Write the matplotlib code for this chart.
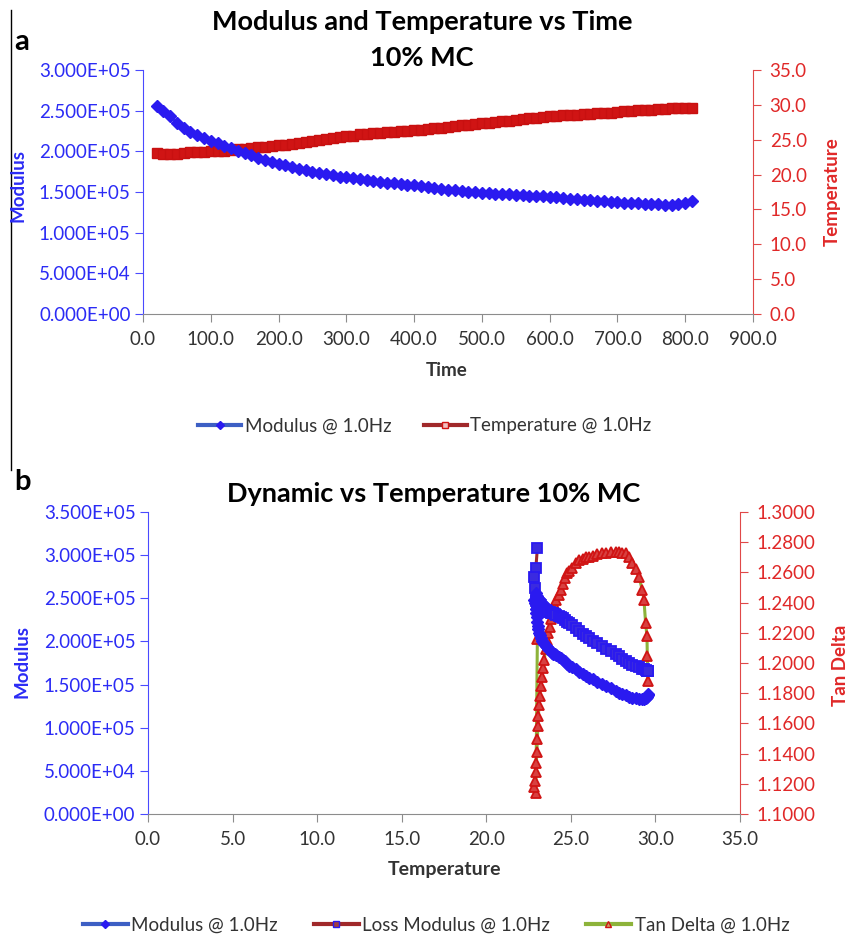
import matplotlib
matplotlib.use("Agg")
import matplotlib.pyplot as plt
from matplotlib.lines import Line2D
from matplotlib.ticker import FuncFormatter, MultipleLocator

plt.rcParams['font.family'] = ['Lato', 'DejaVu Sans']

# ---------------- Panel a data ----------------
time_s = [20, 30, 40, 50, 60, 70, 80, 90, 100, 110, 120, 130, 140, 150, 160, 170, 180, 190,
          200, 210, 220, 230, 240, 250, 260, 270, 280, 290, 300, 310, 320, 330, 340, 350,
          360, 370, 380, 390, 400, 410, 420, 430, 440, 450, 460, 470, 480, 490, 500, 510,
          520, 530, 540, 550, 560, 570, 580, 590, 600, 610, 620, 630, 640, 650, 660, 670,
          680, 690, 700, 710, 720, 730, 740, 750, 760, 770, 780, 790, 800, 810]
modulus_a = [2.56, 2.50, 2.43, 2.35, 2.29, 2.24, 2.20, 2.165, 2.13, 2.10, 2.065, 2.035, 2.005,
             1.975, 1.95, 1.92, 1.895, 1.87, 1.85, 1.83, 1.805, 1.785, 1.77, 1.75, 1.735, 1.72,
             1.705, 1.69, 1.68, 1.67, 1.655, 1.645, 1.635, 1.625, 1.615, 1.61, 1.60, 1.59, 1.58,
             1.57, 1.56, 1.55, 1.54, 1.53, 1.525, 1.515, 1.505, 1.495, 1.49, 1.485, 1.48, 1.475,
             1.47, 1.465, 1.46, 1.455, 1.45, 1.445, 1.44, 1.435, 1.43, 1.42, 1.415, 1.405, 1.40,
             1.39, 1.385, 1.38, 1.375, 1.37, 1.365, 1.36, 1.355, 1.35, 1.348, 1.346, 1.346,
             1.35, 1.36, 1.385]  # x 1e5
temperature_a = [23.1, 23.0, 22.95, 23.0, 23.1, 23.2, 23.25, 23.3, 23.35, 23.4, 23.45, 23.5,
                 23.6, 23.7, 23.8, 23.9, 24.0, 24.1, 24.2, 24.3, 24.45, 24.55, 24.7, 24.8,
                 24.95, 25.1, 25.2, 25.35, 25.5, 25.6, 25.75, 25.85, 25.95, 26.0, 26.1, 26.15,
                 26.2, 26.3, 26.35, 26.45, 26.55, 26.65, 26.75, 26.85, 26.95, 27.05, 27.15,
                 27.25, 27.35, 27.45, 27.55, 27.65, 27.75, 27.85, 27.95, 28.05, 28.15, 28.25,
                 28.35, 28.45, 28.5, 28.55, 28.6, 28.7, 28.75, 28.8, 28.85, 28.9, 29.0, 29.05,
                 29.1, 29.2, 29.25, 29.3, 29.4, 29.45, 29.5, 29.55, 29.6, 29.6]

# ---------------- Panel b data ----------------
temperature_b = [23.02, 22.93, 22.85, 22.88, 22.93, 22.96, 22.99, 23.02, 23.05, 23.08, 23.12,
                 23.16, 23.22, 23.28, 23.35, 23.42, 23.52, 23.60, 23.67, 23.74, 23.81, 23.91,
                 23.97, 24.05, 24.14, 24.27, 24.40, 24.52, 24.65, 24.79, 24.89, 25.05, 25.29,
                 25.50, 25.70, 25.88, 26.07, 26.30, 26.55, 26.86, 27.10, 27.35, 27.65, 27.85,
                 28.05, 28.24, 28.45, 28.63, 28.83, 29.03, 29.22, 29.32, 29.42, 29.50, 29.52,
                 29.54, 29.56]
storage_b = [2.53, 2.56, 2.48, 2.44, 2.38, 2.33, 2.28, 2.23, 2.18, 2.14, 2.10, 2.07, 2.04, 2.01,
             1.99, 1.97, 1.945, 1.93, 1.915, 1.90, 1.885, 1.867, 1.86, 1.85, 1.84, 1.825, 1.81,
             1.79, 1.77, 1.74, 1.713, 1.70, 1.68, 1.65, 1.62, 1.598, 1.58, 1.56, 1.535, 1.502,
             1.48, 1.455, 1.425, 1.406, 1.39, 1.375, 1.36, 1.348, 1.34, 1.333, 1.328, 1.33,
             1.34, 1.355, 1.365, 1.375, 1.386]  # x 1e5
loss_b = [3.08, 2.85, 2.75, 2.62, 2.50, 2.47, 2.46, 2.455, 2.45, 2.445, 2.44, 2.43, 2.42, 2.40,
          2.39, 2.375, 2.36, 2.35, 2.345, 2.34, 2.335, 2.33, 2.325, 2.315, 2.31, 2.30, 2.285,
          2.27, 2.25, 2.23, 2.214, 2.19, 2.16, 2.12, 2.09, 2.06, 2.035, 2.01, 1.98, 1.944,
          1.915, 1.885, 1.85, 1.829, 1.80, 1.775, 1.745, 1.725, 1.713, 1.70, 1.685, 1.675,
          1.665, 1.66, 1.658, 1.656, 1.655]  # x 1e5
tan_delta_b = [1.216, 1.114, 1.118, 1.122, 1.128, 1.134, 1.141, 1.150, 1.158, 1.165, 1.172,
               1.178, 1.185, 1.191, 1.197, 1.202, 1.209, 1.215, 1.220, 1.224, 1.229, 1.233,
               1.235, 1.238, 1.242, 1.245, 1.2485, 1.252, 1.256, 1.2595, 1.261, 1.263, 1.266,
               1.268, 1.269, 1.270, 1.2705, 1.271, 1.272, 1.2727, 1.273, 1.2735, 1.2738,
               1.2735, 1.273, 1.2727, 1.270, 1.266, 1.262, 1.257, 1.2485, 1.242, 1.2265,
               1.2177, 1.2045, 1.195, 1.188]

legend_a = ["Modulus @ 1.0Hz", "Temperature @ 1.0Hz"]
legend_b = ["Modulus @ 1.0Hz", "Loss Modulus @ 1.0Hz", "Tan Delta @ 1.0Hz"]

BLUE_TXT = '#2B2BF5'
RED_TXT = '#E02828'
BLUE_MK = '#2A1AF0'
BLUE_LN = '#3D5FC4'
RED_MK = '#D01414'
RED_LN = '#A0282A'
GREEN_LN = '#8DB33A'
GREY = '#8C8C8C'
TXT = '#333333'

W, H = 849, 941
fig = plt.figure(figsize=(W / 100, H / 100), dpi=100)

def rect(l, r, t, b):
    return [l / W, 1 - b / H, (r - l) / W, (b - t) / H]

TICK_FS = 13.5

def style(ax, axr, yfmt_l, yfmt_r):
    ax.spines['top'].set_visible(False)
    axr.spines['top'].set_visible(False)
    ax.spines['left'].set_color('#4A4AFF')
    ax.spines['bottom'].set_color(GREY)
    axr.spines['right'].set_color('#E04848')
    axr.spines['left'].set_visible(False)
    axr.spines['bottom'].set_visible(False)
    ax.spines['right'].set_visible(False)
    ax.tick_params(axis='y', colors='#4A4AFF', labelcolor=BLUE_TXT, labelsize=TICK_FS,
                   direction='out', length=6, pad=3)
    ax.tick_params(axis='x', colors=GREY, labelcolor=TXT, labelsize=TICK_FS,
                   direction='out', length=6, pad=6)
    axr.tick_params(axis='y', colors='#E04848', labelcolor=RED_TXT, labelsize=TICK_FS,
                    direction='out', length=6, pad=6)
    ax.yaxis.set_major_formatter(FuncFormatter(yfmt_l))
    axr.yaxis.set_major_formatter(FuncFormatter(yfmt_r))
    ax.xaxis.set_major_formatter(FuncFormatter(lambda v, p: f"{v:.1f}"))

# ---------------- Panel a ----------------
ax1 = fig.add_axes(rect(143, 753, 70, 314))
ax1r = ax1.twinx()
ax1.set_zorder(ax1r.get_zorder() + 1)
ax1.patch.set_visible(False)
ax1.plot(time_s, [m * 1e5 for m in modulus_a], color=BLUE_LN, lw=2.2,
         marker='D', ms=6, mfc=BLUE_MK, mec=BLUE_MK, zorder=3)
ax1r.plot(time_s, temperature_a, color=RED_LN, lw=2.2,
          marker='s', ms=7.5, mfc=RED_MK, mec='#C81010', zorder=2)
ax1.set_xlim(0, 900)
ax1.set_ylim(0, 3.0e5)
ax1r.set_ylim(0, 35)
ax1.xaxis.set_major_locator(MultipleLocator(100))
ax1.yaxis.set_major_locator(MultipleLocator(5e4))
ax1r.yaxis.set_major_locator(MultipleLocator(5))
style(ax1, ax1r, lambda v, p: f"{v:.3E}", lambda v, p: f"{v:.1f}")

TITLE_FS = 19.5
fig.text(422 / W, 1 - 22 / H, "Modulus and Temperature vs Time", ha='center', va='center',
         fontsize=TITLE_FS, fontweight='bold', color='black')
fig.text(422 / W, 1 - 58 / H, "10% MC", ha='center', va='center',
         fontsize=TITLE_FS, fontweight='bold', color='black')
fig.text(447 / W, 1 - 370 / H, "Time", ha='center', va='center', fontsize=13.5,
         fontweight='bold', color=TXT)
fig.text(18 / W, 1 - 185 / H, "Modulus", ha='center', va='center', rotation=90,
         fontsize=13.5, fontweight='bold', color=BLUE_TXT)
fig.text(832 / W, 1 - 192 / H, "Temperature", ha='center', va='center', rotation=90,
         fontsize=13.5, fontweight='bold', color=RED_TXT)
fig.text(22 / W, 1 - 42 / H, "a", ha='center', va='center', fontsize=21,
         fontweight='bold', color='black')

h1 = Line2D([], [], color=BLUE_LN, lw=3, marker='D', ms=4, mfc=BLUE_MK, mec=BLUE_MK)
h2 = Line2D([], [], color=RED_LN, lw=3, marker='s', ms=5, mfc='#F0C0C0', mec=RED_MK)
fig.legend([h1, h2], legend_a, loc='center', bbox_to_anchor=(425 / W, 1 - 426 / H),
           ncol=2, frameon=False, fontsize=13.5, handlelength=2.3, handletextpad=0.2,
           columnspacing=1.7, numpoints=1, labelcolor='#333333')

# ---------------- Panel b ----------------
ax2 = fig.add_axes(rect(148, 740, 512, 814))
ax2r = ax2.twinx()
ax2.set_zorder(ax2r.get_zorder() + 1)
ax2.patch.set_visible(False)
ax2r.plot(temperature_b, tan_delta_b, color=GREEN_LN, lw=2.2,
          marker='^', ms=6.5, mfc='#D84040', mec=RED_MK, mew=1.3, zorder=2)
ax2.plot(temperature_b, [m * 1e5 for m in loss_b], color=RED_LN, lw=2.2,
         marker='s', ms=6.5, mfc='#3A2AE0', mec=BLUE_MK, mew=1.3, zorder=3)
ax2.plot(temperature_b, [m * 1e5 for m in storage_b], color=BLUE_LN, lw=2.2,
         marker='D', ms=6, mfc=BLUE_MK, mec=BLUE_MK, zorder=4)
ax2.set_xlim(0, 35)
ax2.set_ylim(0, 3.5e5)
ax2r.set_ylim(1.1, 1.3)
ax2.xaxis.set_major_locator(MultipleLocator(5))
ax2.yaxis.set_major_locator(MultipleLocator(5e4))
ax2r.yaxis.set_major_locator(MultipleLocator(0.02))
style(ax2, ax2r, lambda v, p: f"{v:.3E}", lambda v, p: f"{v:.4f}")

fig.text(434 / W, 1 - 494 / H, "Dynamic vs Temperature 10% MC", ha='center', va='center',
         fontsize=TITLE_FS, fontweight='bold', color='black')
fig.text(444 / W, 1 - 870 / H, "Temperature", ha='center', va='center', fontsize=14,
         fontweight='bold', color=TXT)
fig.text(22 / W, 1 - 662 / H, "Modulus", ha='center', va='center', rotation=90,
         fontsize=13.5, fontweight='bold', color=BLUE_TXT)
fig.text(840 / W, 1 - 665 / H, "Tan Delta", ha='center', va='center', rotation=90,
         fontsize=13.5, fontweight='bold', color=RED_TXT)
fig.text(22 / W, 1 - 482 / H, "b", ha='center', va='center', fontsize=21,
         fontweight='bold', color='black')

g1 = Line2D([], [], color=BLUE_LN, lw=3, marker='D', ms=4, mfc=BLUE_MK, mec=BLUE_MK)
g2 = Line2D([], [], color=RED_LN, lw=3, marker='s', ms=5, mfc='#A04040', mec=BLUE_MK)
g3 = Line2D([], [], color=GREEN_LN, lw=3, marker='^', ms=5, mfc='#C9A060', mec=RED_MK)
fig.legend([g1, g2, g3], legend_b, loc='center', bbox_to_anchor=(436 / W, 1 - 925 / H),
           ncol=3, frameon=False, fontsize=13.5, handlelength=2.4, handletextpad=0.2,
           columnspacing=1.9, numpoints=1, labelcolor='#333333')

# left border line of the original figure
fig.add_artist(Line2D([10.7 / W, 10.7 / W], [1 - 10 / H, 1 - 470 / H], color='black', lw=1.0))

fig.savefig("out.png", dpi=100)
